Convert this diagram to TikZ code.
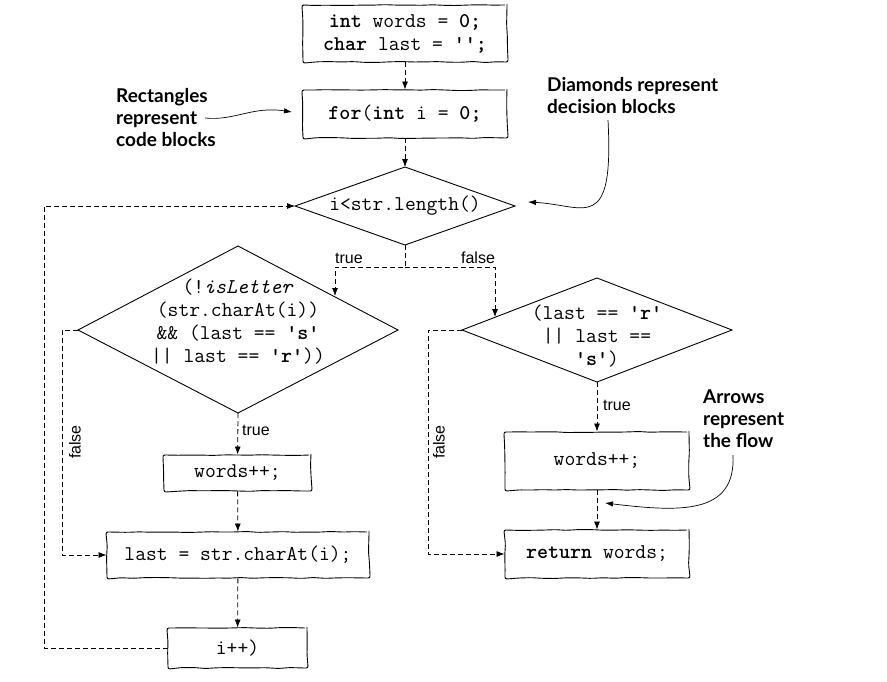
\documentclass[tikz,border=0pt]{standalone}
\usepackage{fontspec}
\setmainfont{Liberation Sans}
\newfontfamily\ann{Lato}
\usetikzlibrary{arrows.meta,decorations.pathmorphing}
\newcommand\qq{\char"0027\relax}
\begin{document}
\begin{tikzpicture}[x=1pt,y=-1pt,
  wob/.style={decorate, decoration={random steps, segment length=12pt, amplitude=0.5pt}, rounded corners=2pt},
  box/.style={draw, line width=0.9pt, wob, font=\ttfamily\fontsize{21}{23}\selectfont, align=center, inner sep=0pt},
  dtext/.style={font=\ttfamily\fontsize{21}{23}\selectfont, align=center, inner sep=0pt},
  dia/.style={draw, line width=0.9pt, line join=miter},
  flow/.style={draw, line width=0.8pt, dash pattern=on 5pt off 3pt, -{Latex[length=8pt,width=6pt]}},
  lbl/.style={font=\fontsize{16}{18}\selectfont, inner sep=0pt},
  note/.style={font=\ann\bfseries\fontsize{19}{22}\selectfont, align=left, inner sep=0pt},
  nline/.style={draw, line width=0.7pt, -{Latex[length=8pt,width=5.5pt]}}]
\pgfmathsetseed{7}
\useasboundingbox (0,0) rectangle (887,681);
\fill[white] (0,0) rectangle (887,681);

% boxes
\node[box, minimum width=204pt, minimum height=57pt] (b1) at (405,33.5) {\textbf{int} words = \textbf{0;}\\\textbf{char} last = \textbf{\qq\qq;}};
\node[box, minimum width=204pt, minimum height=48pt] (b2) at (405,114) {\textbf{for}(\textbf{int} i = \textbf{0;}};
\node[box, minimum width=147pt, minimum height=36pt] (w1) at (237.5,473) {words++;};
\node[box, minimum width=262pt, minimum height=46pt] (last) at (238,555) {last = str.charAt(i);};
\node[box, minimum width=139pt, minimum height=40pt] (ipp) at (237.5,648) {i++)};
\node[box, minimum width=184pt, minimum height=58pt] (w2) at (597,461) {words++;};
\node[box, minimum width=184pt, minimum height=48pt] (ret) at (597,554) {\textbf{return} words;};

% diamonds
\coordinate (d1n) at (405,167); \coordinate (d1e) at (515,206);
\coordinate (d1s) at (405,245); \coordinate (d1w) at (295,206);
\draw[dia] (d1n) -- (d1e) -- (d1s) -- (d1w) -- cycle;
\node[dtext] (d1) at (405,206) {i<str.length()};

\coordinate (d2n) at (238,246); \coordinate (d2e) at (398,330);
\coordinate (d2s) at (238,413); \coordinate (d2w) at (78,330);
\draw[dia] (d2n) -- (d2e) -- (d2s) -- (d2w) -- cycle;
\node[dtext] (d2) at (238,322) {(!\textit{isLetter}\\(str.charAt(i))\\\&\& (last == \textbf{\qq s\qq}\\|| last == \textbf{\qq r\qq}))};

\coordinate (d3n) at (597,278); \coordinate (d3e) at (732,330);
\coordinate (d3s) at (597,382); \coordinate (d3w) at (462,330);
\draw[dia] (d3n) -- (d3e) -- (d3s) -- (d3w) -- cycle;
\node[dtext] (d3) at (597,336) {(last == \textbf{\qq r\qq}\\|| last ==\\\textbf{\qq s\qq})};

% connectors
\coordinate (j1) at (405,267);
\coordinate (d2a) at (335,296);
\coordinate (d3a) at (495,317);
\coordinate (lp) at (44,648);
\coordinate (fl) at (62,330);
\coordinate (fr) at (428,330);
\draw[flow] (b1) -- (b2);
\draw[flow] (b2) -- (d1n);
\draw[flow] (d1s) -- (j1) -| (d2a);
\draw[flow] (j1) -| (d3a);
\draw[flow] (d2s) -- (w1);
\draw[flow] (w1) -- (last);
\draw[flow] (last) -- (ipp);
\draw[flow] (ipp.west) -- (lp) |- (d1w);
\draw[flow] (d2w) -- (fl) |- (last.west);
\draw[flow] (d3s) -- (w2);
\draw[flow] (w2) -- (ret);
\draw[flow] (d3w) -- (fr) |- (ret.west);

% labels
\node[lbl] (t1) at (349,258) {true};
\node[lbl] (f1) at (478,258) {false};
\node[lbl, anchor=west] (t2) at (242,430) {true};
\node[lbl, anchor=west] (t3) at (603,405) {true};
\node[lbl, rotate=90] (f2) at (75,442) {false};
\node[lbl, rotate=90] (f3) at (439,442) {false};

% annotations
\node[note, anchor=west] (n1) at (116,118) {Rectangles\\represent\\code blocks};
\node[note, anchor=west] (n2) at (547,96) {Diamonds represent\\decision blocks};
\node[note, anchor=west] (n3) at (703,419) {Arrows\\represent\\the flow};
\coordinate (a1s) at (205,118); \coordinate (a1e) at (292,112);
\coordinate (a2s) at (608,120); \coordinate (a2e) at (528,202);
\coordinate (a3s) at (733,455); \coordinate (a3e) at (605,503);
\draw[nline] (a1s) .. controls (235,121) and (252,106) .. (a1e);
\draw[nline] (a2s) .. controls (614,235) and (585,205) .. (a2e);
\draw[nline] (a3s) .. controls (736,515) and (680,512) .. (a3e);
\end{tikzpicture}
\end{document}
